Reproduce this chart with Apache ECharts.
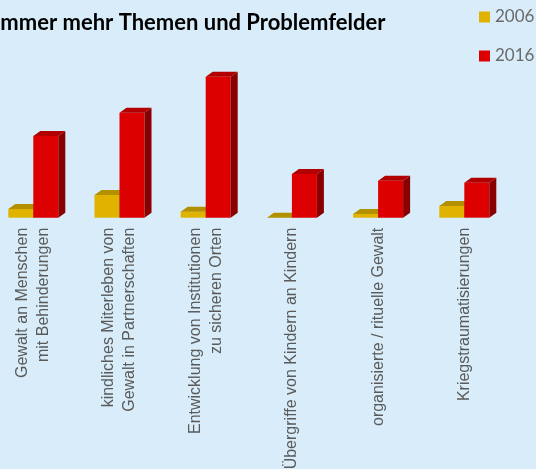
<!DOCTYPE html>
<html>
<head>
<meta charset="utf-8">
<script src="https://cdn.jsdelivr.net/npm/echarts@6/dist/echarts.min.js"></script>
<style>
  html, body { margin: 0; padding: 0; background: #d8edf9; overflow: hidden; }
  /* the original picture is cropped on the left, so the chart starts 10px off-page */
  #chart { width: 546px; height: 469px; margin-left: -10px; }
</style>
</head>
<body>
<div id="chart"></div>
<script>
let categories = [
  "Gewalt an Menschen\nmit Behinderungen",
  "kindliches Miterleben von\nGewalt in Partnerschaften",
  "Entwicklung von Institutionen\nzu sicheren Orten",
  "Übergriffe von Kindern an Kindern",
  "organisierte / rituelle Gewalt",
  "Kriegstraumatisierungen"
];
let years = ["2006", "2016"];
let values2006 = [8.7, 22.7, 6, 0, 3.7, 11.7];
let values2016 = [81.7, 105, 141, 43.7, 37, 35];

// front / top / side colours per year
let faces = {
  "2006": ["#dfb300", "#b39000", "#8f7300"],
  "2016": ["#dd0000", "#b20000", "#880000"]
};

let chart = echarts.init(document.getElementById('chart'));

function bar3d(offset, cols) {
  return function (params, api) {
    let top = api.coord([api.value(0), api.value(1)]);
    let base = api.coord([api.value(0), 0]);
    let w = 25, dx = 7, dy = 5;
    let x = top[0] + offset - w / 2;
    let y = top[1], b = base[1];
    return {
      type: 'group',
      children: [
        { type: 'rect', shape: { x: x, y: y, width: w, height: b - y }, style: { fill: cols[0] } },
        { type: 'polygon', shape: { points: [[x, y], [x + dx, y - dy], [x + w + dx, y - dy], [x + w, y]] }, style: { fill: cols[1] } },
        { type: 'polygon', shape: { points: [[x + w, y], [x + w + dx, y - dy], [x + w + dx, b - dy], [x + w, b]] }, style: { fill: cols[2] } }
      ]
    };
  };
}

function toData(arr) {
  return arr.map(function (v, i) { return [i, v]; });
}

chart.setOption({
  backgroundColor: '#d8edf9',
  title: {
    text: 'Immer mehr Themen und Problemfelder',
    left: 4,
    top: 12,
    padding: 0,
    textStyle: { fontFamily: 'Lato', fontWeight: 'bold', fontSize: 22, color: '#000' }
  },
  legend: {
    orient: 'vertical',
    left: 489,
    top: 7,
    padding: 0,
    itemWidth: 11,
    itemHeight: 11,
    itemGap: 19,
    icon: 'rect',
    textStyle: { fontFamily: 'Lato', fontSize: 17, color: '#6a6a6a', lineHeight: 20 },
    data: years
  },
  grid: { left: 0.2, right: 28.6, top: 67.7, bottom: 251.3, outerBoundsMode: 'none' },
  xAxis: {
    type: 'category',
    data: categories,
    axisLine: { show: false },
    axisTick: { show: false },
    axisLabel: {
      interval: 0,
      rotate: 90,
      margin: 10,
      fontFamily: 'Liberation Sans',
      fontSize: 16,
      lineHeight: 21,
      color: '#5a5a5a'
    }
  },
  yAxis: { type: 'value', min: 0, max: 150, show: false },
  series: [
    {
      name: '2006',
      type: 'custom',
      renderItem: bar3d(-12.5, faces['2006']),
      itemStyle: { color: faces['2006'][0] },
      encode: { x: 0, y: 1 },
      data: toData(values2006)
    },
    {
      name: '2016',
      type: 'custom',
      renderItem: bar3d(12.5, faces['2016']),
      itemStyle: { color: faces['2016'][0] },
      encode: { x: 0, y: 1 },
      data: toData(values2016)
    }
  ]
});
</script>
</body>
</html>
